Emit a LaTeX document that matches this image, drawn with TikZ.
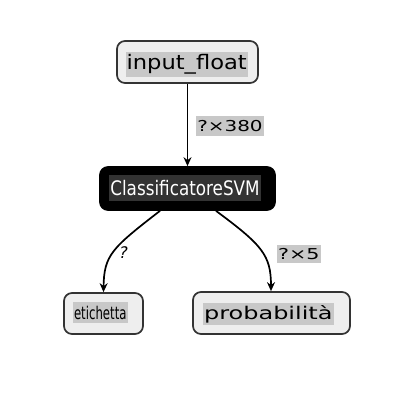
\documentclass[tikz,border=0pt]{standalone}
\usepackage{fontspec}
\setmainfont{DejaVu Sans}
\usetikzlibrary{arrows.meta}
\definecolor{boxfill}{HTML}{EEEEEE}
\definecolor{boxline}{HTML}{333333}
\definecolor{hl}{HTML}{C8C8C8}
\definecolor{darkhl}{HTML}{333333}
\tikzset{
  box/.style={draw=boxline, line width=1.7pt, fill=boxfill, rounded corners=8pt, inner sep=0pt},
  darkbox/.style={draw=black, line width=1.7pt, fill=black, rounded corners=8pt, inner sep=0pt},
  hltext/.style={fill=hl, inner xsep=1pt, inner ysep=0pt, text=black},
  darktext/.style={fill=darkhl, inner xsep=1pt, inner ysep=0pt, text=white},
  conn/.style={line width=1.7pt, -{Stealth[length=9pt,width=8pt]}},
}
\newcommand{\fs}[1]{\fontsize{#1}{#1}\selectfont}
\begin{document}
\begin{tikzpicture}[x=1pt,y=-1pt]
\useasboundingbox (0,0) rectangle (392,416);
% boxes
\node[box, minimum width=141, minimum height=42] (in) at (187.5,62) {};
\node[hltext, minimum height=25] (inT) at (186.7,64) {\scalebox{1.13}[1]{\fs{20}input\_float}};
\node[darkbox, minimum width=175, minimum height=43] (cls) at (187.5,188.5) {};
\node[darktext, minimum height=26] (clsT) at (185,188) {\scalebox{0.84}[1]{\fs{20}ClassificatoreSVM}};
\node[box, minimum width=79, minimum height=41] (eti) at (103.5,313.5) {};
\node[hltext, minimum height=21] (etiT) at (100.3,312.5) {\scalebox{0.67}[1]{\fs{17.5}etichetta}};
\node[box, minimum width=157, minimum height=42] (prob) at (271.5,313) {};
\node[hltext, minimum height=22] (probT) at (268.3,314) {\scalebox{1.37}[1]{\fs{17.5}probabilità}};
% connectors
\draw[conn] (in.south) -- (cls.north);
\draw[conn] ([xshift=-27.5pt]cls.south) .. controls (112,248) and (104,255) .. (eti.north);
\draw[conn] ([xshift=28.5pt]cls.south) .. controls (262,245) and (271,255) .. ([xshift=-0.5pt]prob.north);
% labels
\node[hltext, minimum height=20] (l1) at (230,126) {\scalebox{1.33}[1]{\fs{15}?×380}};
\node[inner sep=0pt] (l2) at (123.5,253) {\fs{16}\itshape ?};
\node[hltext, minimum height=18] (l3) at (298.8,254) {\scalebox{1.38}[1]{\fs{15}?×5}};
\end{tikzpicture}
\end{document}
